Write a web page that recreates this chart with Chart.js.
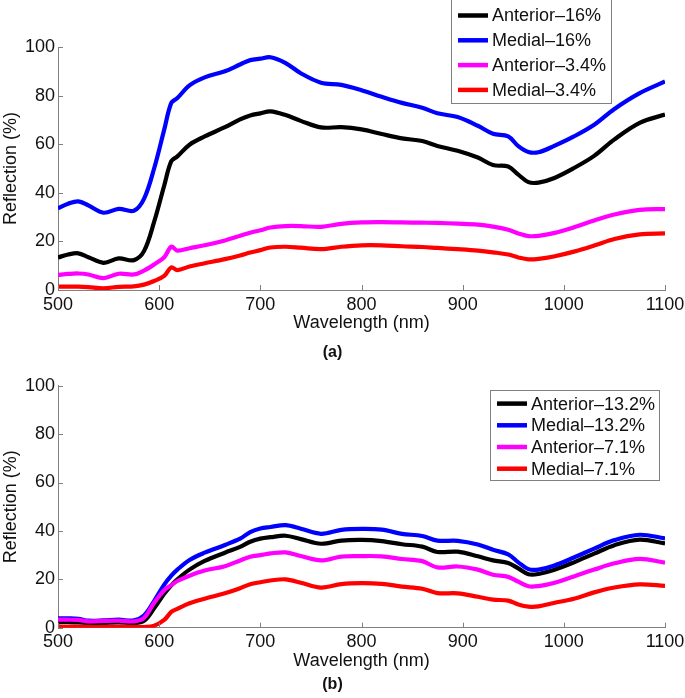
<!DOCTYPE html>
<html>
<head>
<meta charset="utf-8">
<script src="https://cdn.jsdelivr.net/npm/chart.js@4.4.0/dist/chart.umd.min.js"></script>
<style>
	html, body { margin: 0; padding: 0; background: #fff; }
	body { width: 685px; height: 698px; position: relative; overflow: hidden; }
	canvas { position: absolute; left: 0; }
	#chartA { top: 0; }
	#chartB { top: 362px; }
</style>
</head>
<body>
<canvas id="chartA" width="685" height="362"></canvas>
<canvas id="chartB" width="685" height="336"></canvas>
<script>
// wavelength grid (nm), shared by both panels
const wavelength = [500, 510, 520, 530, 545, 560, 575, 585, 595, 605, 612, 618, 630, 645, 665, 680, 690, 700, 710, 725, 740, 760, 780, 800, 820, 840, 860, 875, 895, 915, 930, 945, 955, 965, 975, 990, 1010, 1030, 1050, 1075, 1100]

const xTicks = [500, 600, 700, 800, 900, 1000, 1100]
const yTicks = [0, 20, 40, 60, 80, 100]

// panel (a)
const labelsA = ['Anterior–16%', 'Medial–16%', 'Anterior–3.4%', 'Medial–3.4%']
const anterior16 = [13.4, 14.6, 15.1, 13.5, 11.2, 13, 12.3, 16, 28, 43, 53, 55, 59.8, 63.2, 67, 70.2, 71.8, 72.7, 73.5, 72, 69.6, 66.9, 67, 66.1, 64.2, 62.4, 61.3, 59.3, 57.3, 54.5, 51.4, 50.8, 47.5, 44.4, 44.2, 46, 50.2, 55.2, 62, 68.8, 72.2]
const medial16 = [33.6, 35.5, 36.5, 34.8, 31.8, 33.4, 32.6, 37.5, 50, 66, 77, 79, 84.2, 87.5, 90, 92.8, 94.6, 95.2, 95.8, 93.4, 89.2, 85.3, 84.4, 82.2, 79.5, 77, 75, 72.7, 71.2, 67.6, 64.3, 63.2, 59.2, 56.8, 56.7, 59.2, 63.2, 68, 74.5, 81, 85.8]
const anterior3_4 = [6.2, 6.6, 6.8, 6.4, 4.9, 6.7, 6.4, 8, 10.5, 13.5, 17.8, 16.2, 17.2, 18.4, 20.4, 22.3, 23.6, 24.6, 25.7, 26.3, 26.3, 26, 27.2, 27.8, 27.9, 27.8, 27.7, 27.6, 27.3, 26.9, 26.1, 24.8, 23.3, 22.2, 22.3, 23.4, 25.8, 28.6, 31.1, 33, 33.3]
const medial3_4 = [1.4, 1.4, 1.4, 1.2, 0.7, 1.3, 1.5, 2.2, 3.7, 5.8, 9.3, 8.2, 9.7, 11, 12.7, 14.2, 15.4, 16.4, 17.5, 17.8, 17.4, 16.8, 17.8, 18.4, 18.4, 18, 17.7, 17.3, 16.8, 16.2, 15.5, 14.6, 13.4, 12.6, 12.8, 13.8, 15.8, 18.3, 21, 22.9, 23.3]

// panel (b)
const labelsB = ['Anterior–13.2%', 'Medial–13.2%', 'Anterior–7.1%', 'Medial–7.1%']
const anterior13_2 = [2.2, 2.3, 2.2, 1.9, 2, 2.2, 1.9, 2.8, 8, 14, 17.5, 20, 24, 27.6, 31, 33.4, 35.5, 36.8, 37.4, 38, 36.6, 34.7, 36, 36.3, 35.8, 34.5, 33.5, 31.3, 31.4, 29.5, 27.8, 26.7, 24.5, 22.1, 22.2, 23.8, 27, 30.6, 34.1, 36.4, 34.8]
const medial13_2 = [3.9, 3.9, 3.7, 2.9, 3, 3.3, 3, 5, 11, 17.8, 21.5, 24, 28, 31, 34.2, 36.8, 39.5, 41, 41.6, 42.4, 40.9, 38.8, 40.4, 40.8, 40.5, 38.8, 37.9, 36, 35.9, 34.4, 32.2, 30.3, 27, 24.2, 24, 25.6, 29, 32.7, 36.2, 38.4, 36.9]
const anterior7_1 = [3.3, 3.3, 3.2, 2.6, 2.8, 2.9, 2.6, 4, 10.3, 15.5, 17.6, 19.3, 21.5, 23.6, 25.4, 27.8, 29.3, 30, 30.7, 31.1, 29.6, 27.8, 29.4, 29.6, 29.5, 28.4, 27.5, 24.9, 25.3, 24, 21.9, 21, 19, 17.1, 17.2, 18.5, 21.2, 24, 26.6, 28.4, 26.9]
const medial7_1 = [0.4, 0.4, 0.4, 0.3, 0.3, 0.3, 0.3, 0.3, 0.8, 3.2, 6.5, 7.8, 10.1, 12, 14.2, 16.3, 18, 18.8, 19.5, 20, 18.6, 16.6, 18, 18.4, 18.1, 17, 16.1, 14.3, 14.2, 12.8, 11.6, 11.2, 9.6, 8.7, 8.8, 10.2, 12, 14.6, 16.6, 17.9, 17.3]

const colors = ['#000000', '#0000ff', '#ff00ff', '#ff0000']
const FONT = "'Liberation Sans', Arial, sans-serif"

// inward tick marks on left and bottom axes
const inwardTicks = {
	id: 'inwardTicks',
	afterDatasetsDraw(chart) {
		const { ctx, chartArea, scales } = chart
		ctx.save()
		ctx.strokeStyle = '#808080'
		ctx.lineWidth = 1
		scales.x.ticks.forEach(t => {
			const px = Math.round(scales.x.getPixelForValue(t.value)) + 0.5
			ctx.beginPath()
			ctx.moveTo(px, chartArea.bottom)
			ctx.lineTo(px, chartArea.bottom - 5)
			ctx.stroke()
		})
		scales.y.ticks.forEach(t => {
			const py = Math.round(scales.y.getPixelForValue(t.value)) + 0.5
			ctx.beginPath()
			ctx.moveTo(chartArea.left, py)
			ctx.lineTo(chartArea.left + 5, py)
			ctx.stroke()
		})
		ctx.restore()
	},
}

// matlab-like legend box
const boxLegend = {
	id: 'boxLegend',
	afterDraw(chart, args, opts) {
		const ctx = chart.ctx
		ctx.save()
		ctx.fillStyle = '#fff'
		ctx.fillRect(opts.x, opts.y, opts.w, opts.h)
		ctx.strokeStyle = '#808080'
		ctx.lineWidth = 1
		ctx.strokeRect(opts.x + 0.5, opts.y + 0.5, opts.w, opts.h)
		ctx.font = '18px ' + FONT
		ctx.textBaseline = 'middle'
		chart.data.datasets.forEach((ds, i) => {
			const y = opts.y + opts.first + i * opts.step
			ctx.strokeStyle = ds.borderColor
			ctx.lineWidth = 4.5
			ctx.beginPath()
			ctx.moveTo(opts.x + opts.lineX, y)
			ctx.lineTo(opts.x + opts.lineX + 30, y)
			ctx.stroke()
			ctx.fillStyle = '#111'
			ctx.fillText(ds.label, opts.x + opts.lineX + 34, y + 1)
		})
		ctx.restore()
	},
}

function makeChart(id, labels, series, cfg) {
	const datasets = series.map((vals, i) => ({
		label: labels[i],
		data: wavelength.map((w, j) => ({ x: w, y: vals[j] })),
		borderColor: colors[i],
		backgroundColor: colors[i],
		borderWidth: 4.2,
		pointRadius: 0,
		tension: 0.35,
		fill: false,
		order: 3 - i,
	}))
	return new Chart(document.getElementById(id), {
		type: 'line',
		data: { datasets },
		plugins: [inwardTicks, boxLegend],
		options: {
			responsive: false,
			animation: false,
			layout: { padding: { left: 0, right: 20, top: cfg.top, bottom: cfg.bottom } },
			scales: {
				x: {
					type: 'linear',
					min: 500,
					max: 1100,
					afterBuildTicks: s => { s.ticks = xTicks.map(v => ({ value: v })) },
					afterFit: s => {
						s.height = cfg.xh
						s.paddingLeft = 0
						s.paddingRight = 0
					},
					ticks: { color: '#111', font: { family: FONT, size: 18 }, padding: cfg.tickPad, maxRotation: 0, autoSkip: false, callback: v => String(v) },
					grid: { display: false, drawTicks: false },
					border: { display: true, color: '#808080', width: 1 },
					title: { display: true, text: 'Wavelength (nm)', color: '#111', font: { family: FONT, size: 18 }, padding: { top: 0, bottom: cfg.xTitlePad } },
				},
				y: {
					min: 0,
					max: 100,
					afterBuildTicks: s => { s.ticks = yTicks.map(v => ({ value: v })) },
					afterFit: s => {
						s.width = 58
						s.paddingTop = 0
						s.paddingBottom = 0
					},
					ticks: { color: '#111', font: { family: FONT, size: 18 }, padding: 3, callback: v => String(v) },
					grid: { display: false, drawTicks: false },
					border: { display: true, color: '#808080', width: 1 },
					title: { display: true, text: 'Reflection (%)', color: '#111', font: { family: FONT, size: 18 }, padding: { top: 0, bottom: 0 } },
				},
			},
			plugins: {
				legend: { display: false },
				tooltip: { enabled: false },
				title: { display: true, text: cfg.caption, position: 'bottom', color: '#111', font: { family: FONT, size: 16, weight: 'bold' }, padding: 0 },
				boxLegend: cfg.legend,
			},
		},
	})
}

makeChart('chartA', labelsA, [anterior16, medial16, anterior3_4, medial3_4], {
	top: 47, bottom: 0, xh: 52.8, tickPad: 4, xTitlePad: 9.3, caption: '(a)',
	legend: { x: 451, y: -1, w: 160, h: 104, first: 16.5, step: 24.8, lineX: 7 },
})
makeChart('chartB', labelsB, [anterior13_2, medial13_2, anterior7_1, medial7_1], {
	top: 23.7, bottom: 3.7, xh: 47.4, tickPad: 4, xTitlePad: 3.5, caption: '(b)',
	legend: { x: 490, y: 28, w: 169, h: 90, first: 13.6, step: 21.7, lineX: 7 },
})
</script>
</body>
</html>
